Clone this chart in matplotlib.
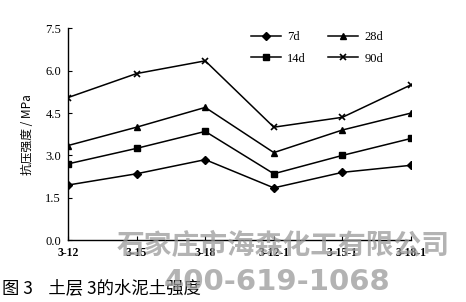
import matplotlib
matplotlib.use("Agg")
import matplotlib.pyplot as plt

# data
categories = ['3-12', '3-15', '3-18', '3-12-1', '3-15-1', '3-18-1']
d7 = [1.95, 2.35, 2.85, 1.85, 2.4, 2.65]
d14 = [2.7, 3.25, 3.85, 2.35, 3.0, 3.6]
d28 = [3.35, 4.0, 4.7, 3.1, 3.9, 4.5]
d90 = [5.05, 5.9, 6.35, 4.0, 4.35, 5.5]
yticks = [0.0, 1.5, 3.0, 4.5, 6.0, 7.5]

serif = 'Liberation Serif'
cjk = ['Noto Sans CJK SC', 'DejaVu Sans']

fig = plt.figure(figsize=(4.66, 3.02), dpi=100)
ax = fig.add_axes([0.146, 0.205, 0.736, 0.701])

x = list(range(len(categories)))
ax.plot(x, d7, color='black', lw=1.1, marker='D', ms=4, label='7d')
ax.plot(x, d14, color='black', lw=1.1, marker='s', ms=5, label='14d')
ax.plot(x, d28, color='black', lw=1.1, marker='^', ms=5, label='28d')
ax.plot(x, d90, color='black', lw=1.1, marker='x', ms=5, mew=1.2, label='90d')

ax.set_xlim(0, len(categories) - 1)
ax.set_ylim(0, 7.5)
ax.set_xticks(x)
ax.set_xticklabels(categories, fontfamily=serif, fontsize=8.5, fontweight='bold')
ax.set_yticks(yticks)
ax.set_yticklabels(['%.1f' % v for v in yticks], fontfamily=serif, fontsize=9)
ax.tick_params(axis='both', direction='in', length=3, width=0.8, pad=5)
for s in ['top', 'right']:
    ax.spines[s].set_visible(False)
ax.spines['left'].set_linewidth(1.0)
ax.spines['bottom'].set_linewidth(1.0)

ax.set_ylabel('抗压强度 / MPa', family=cjk, fontsize=8.5, labelpad=8)

leg = ax.legend(ncol=2, loc='upper left', bbox_to_anchor=(0.5, 1.04),
                frameon=False, prop={'family': serif, 'size': 9},
                handlelength=2.4, handletextpad=0.5, columnspacing=1.8,
                labelspacing=0.75)

# caption and watermark
fig.text(0.005, 0.03, '图 3    土层 3的水泥土强度', family=cjk, fontsize=12.5)
fig.text(0.607, 0.185, '石家庄市海森化工有限公司', family=cjk, fontsize=20,
         fontweight='bold', color='#9a9a9a', alpha=0.75, ha='center', va='center')
fig.text(0.595, 0.065, '400-619-1068', family='DejaVu Sans', fontsize=21,
         fontweight='bold', color='#9a9a9a', alpha=0.75, ha='center', va='center')

fig.savefig('out.png', dpi=100)
